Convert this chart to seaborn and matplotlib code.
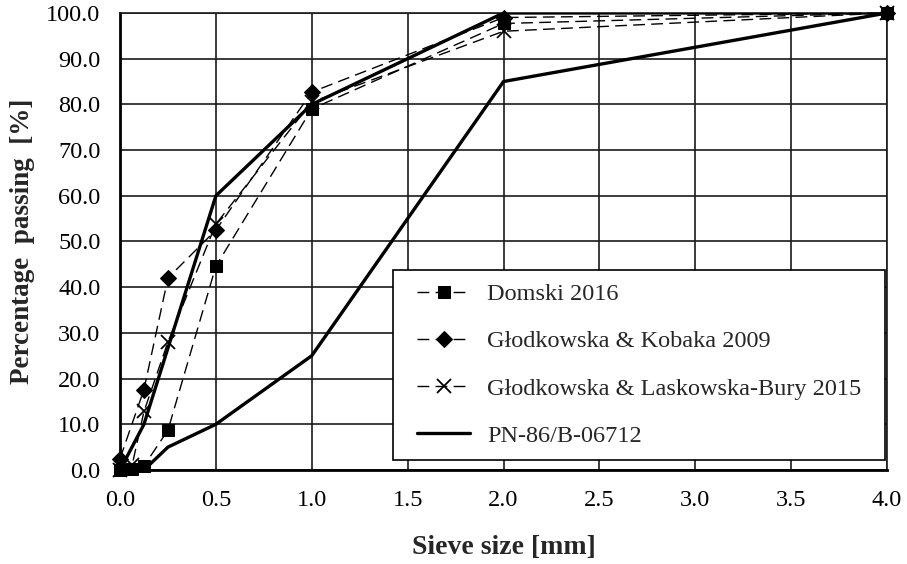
import matplotlib
matplotlib.use('Agg')

import numpy as np
import pandas as pd
import seaborn as sns
import matplotlib.pyplot as plt
from matplotlib.patches import Rectangle

# sieve sizes [mm] and percentage passing
sieve_domski = [0.0, 0.063, 0.125, 0.25, 0.5, 1.0, 2.0, 4.0]
passing_domski = [0.0, 0.2, 0.9, 8.7, 44.6, 79.0, 97.7, 100.0]

sieve_kobaka = [0.0, 0.125, 0.25, 0.5, 1.0, 2.0, 4.0]
passing_kobaka = [2.5, 17.6, 42.0, 52.5, 82.7, 99.0, 100.0]

sieve_laskowska = [0.0, 0.063, 0.125, 0.25, 0.5, 1.0, 2.0, 4.0]
passing_laskowska = [0.0, 1.0, 12.8, 28.0, 53.8, 80.5, 96.0, 100.0]

sieve_pn_upper = [0.0, 0.125, 0.5, 1.0, 2.0, 4.0]
passing_pn_upper = [0.0, 10.0, 60.0, 80.0, 100.0, 100.0]

sieve_pn_lower = [0.0, 0.125, 0.25, 0.5, 1.0, 2.0, 4.0]
passing_pn_lower = [0.0, 0.0, 5.0, 10.0, 25.0, 85.0, 100.0]

x_ticks = [0.0, 0.5, 1.0, 1.5, 2.0, 2.5, 3.0, 3.5, 4.0]
y_ticks = [0, 10, 20, 30, 40, 50, 60, 70, 80, 90, 100]

sns.set_style('white')
plt.rcParams['font.family'] = ['Liberation Serif', 'DejaVu Serif']

fig = plt.figure(figsize=(9.07, 5.64), dpi=100)
ax = fig.add_axes([0.1323, 0.1667, 0.8457, 0.8103])

dash = (0, (8.5, 4.5))
common = dict(ax=ax, color='black', sort=False, estimator=None, markeredgecolor='black',
    linewidth=1.0, linestyle=dash, clip_on=False, zorder=3)

sns.lineplot(x=sieve_domski, y=passing_domski, marker='s', markersize=9, markerfacecolor='black',
    label='Domski 2016', **common)
sns.lineplot(x=sieve_kobaka, y=passing_kobaka, marker='D', markersize=8, markerfacecolor='black',
    label='Głodkowska & Kobaka 2009', **common)
sns.lineplot(x=sieve_laskowska, y=passing_laskowska, marker='x', markersize=10, markeredgewidth=1.3,
    label='Głodkowska & Laskowska-Bury 2015', **common)
sns.lineplot(x=sieve_pn_upper, y=passing_pn_upper, ax=ax, color='black', sort=False, estimator=None,
    linewidth=2.4, label='PN-86/B-06712', zorder=3)
sns.lineplot(x=sieve_pn_lower, y=passing_pn_lower, ax=ax, color='black', sort=False, estimator=None,
    linewidth=2.4, zorder=3)

ax.set_xlim(0, 4)
ax.set_ylim(0, 100)
ax.set_xticks(x_ticks)
ax.set_yticks(y_ticks)
ax.set_xticklabels(['%.1f' % t for t in x_ticks])
ax.set_yticklabels(['%.1f' % t for t in y_ticks])
ax.tick_params(axis='x', direction='inout', length=9, width=1.3, pad=10, labelsize=17.5, colors='black')
ax.tick_params(axis='y', direction='out', length=5, width=1.3, pad=9, labelsize=17.5, colors='black')

ax.grid(True, color='#1a1a1a', linewidth=1.2)
ax.set_axisbelow(True)
for side in ['top', 'right']:
    ax.spines[side].set_linewidth(1.2)
    ax.spines[side].set_color('#1a1a1a')
for side in ['left', 'bottom']:
    ax.spines[side].set_linewidth(2.0)
    ax.spines[side].set_color('black')

ax.set_xlabel('Sieve size [mm]', fontsize=20, fontweight='bold', labelpad=17)
ax.set_ylabel('Percentage  passing  [%]', fontsize=19.5, fontweight='bold', labelpad=8)

# legend box drawn separately so the handles can sit further in from the frame
ax.add_patch(Rectangle((0.356, 0.022), 0.6415, 0.416, transform=ax.transAxes, facecolor='white',
    edgecolor='black', linewidth=1.2, zorder=4, clip_on=False))

handles, labels = ax.get_legend_handles_labels()
leg = ax.legend(handles, labels, loc='upper left', bbox_to_anchor=(0.387, 0.409),
    fontsize=17.5, frameon=False, handlelength=2.2, handletextpad=0.7, labelspacing=1.04,
    borderpad=0, borderaxespad=0)
leg.set_zorder(5)

plt.savefig('out.png', dpi=100)
plt.close('all')
